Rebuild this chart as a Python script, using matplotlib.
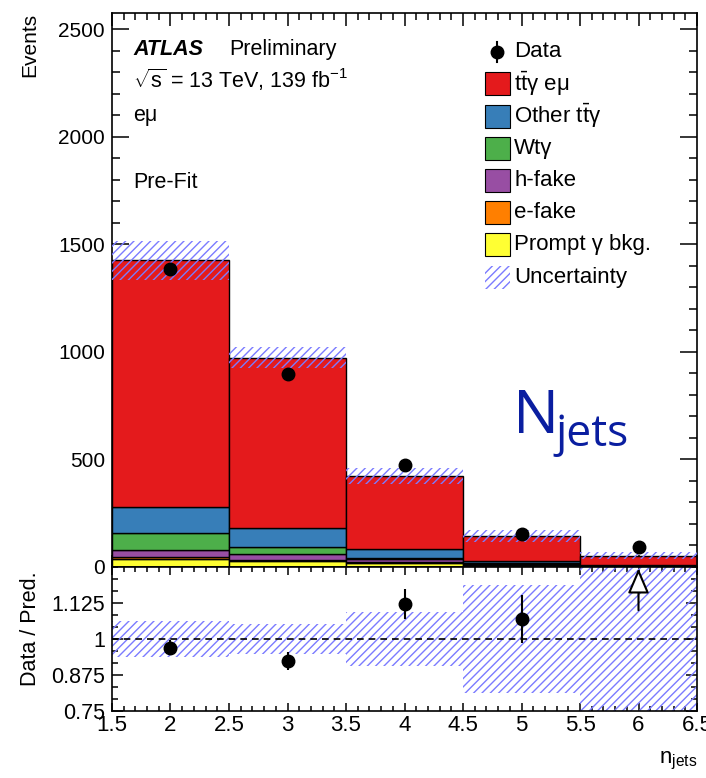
import numpy as np
import matplotlib.pyplot as plt
from matplotlib.patches import Rectangle
from matplotlib.ticker import MultipleLocator, FixedLocator

plt.rcParams['font.family'] = ['Liberation Sans', 'DejaVu Sans']
plt.rcParams['mathtext.fontset'] = 'custom'
plt.rcParams['mathtext.rm'] = 'Liberation Sans'
plt.rcParams['mathtext.it'] = 'Liberation Sans:italic'
plt.rcParams['hatch.linewidth'] = 1.0

# n_jets bins
bins = [2, 3, 4, 5, 6]

# stacked prediction (bottom -> top)
prompt_bkg = [36, 27, 17, 9, 3]
e_fake = [9, 6, 8, 4, 1]
h_fake = [34, 26, 11, 4, 1]
wt_gamma = [81, 32, 7, 3, 1]
other_ttgamma = [119, 88, 39, 9, 2]
ttgamma_emu = [1147, 793, 341, 114, 44]

data = [1383, 897, 475, 153, 91]
data_err = [37, 30, 22, 12, 10]
pred_unc = [90, 49, 39, 27, 16]

stack = [
    (prompt_bkg, '#ffff33', 'Prompt γ bkg.'),
    (e_fake, '#ff7f00', 'e-fake'),
    (h_fake, '#984ea3', 'h-fake'),
    (wt_gamma, '#4daf4a', 'Wtγ'),
    (other_ttgamma, '#377eb8', r'Other t$\bar{\mathrm{t}}$γ'),
    (ttgamma_emu, '#e41a1c', r't$\bar{\mathrm{t}}$γ eμ'),
]
hatch_col = '#7b7bff'

W, H = 706, 778
fig = plt.figure(figsize=(W / 100, H / 100), dpi=100)


def fr(x0, y0, x1, y1):
    # pixel box -> figure fraction
    return [x0 / W, 1 - y1 / H, (x1 - x0) / W, (y1 - y0) / H]


ax = fig.add_axes(fr(112, 13, 697, 567))
rax = fig.add_axes(fr(112, 567, 697, 711))

x = np.array(bins)
bottom = np.zeros(len(bins))
for vals, col, lab in stack:
    ax.bar(x, vals, width=1, bottom=bottom, color=col, edgecolor='black',
           linewidth=1.0, zorder=2)
    bottom += np.array(vals)
total = bottom
unc = np.array(pred_unc)

ax.bar(x, 2 * unc, width=1, bottom=total - unc, fill=False, hatch='////',
       edgecolor=hatch_col, linewidth=0, zorder=3)
ax.plot(x, data, 'o', color='black', ms=9, zorder=4)

ax.set_xlim(1.5, 6.5)
ax.set_ylim(0, 2575)
ax.yaxis.set_major_locator(MultipleLocator(500))
ax.yaxis.set_minor_locator(MultipleLocator(100))
ax.xaxis.set_major_locator(MultipleLocator(0.5))
ax.xaxis.set_minor_locator(MultipleLocator(0.1))
ax.tick_params(axis='both', which='both', direction='in', top=True, right=True,
               width=1.1)
ax.tick_params(axis='y', which='major', length=12, labelsize=15, pad=5)
ax.tick_params(axis='y', which='minor', length=6)
ax.tick_params(axis='x', which='major', length=9, labelbottom=False)
ax.tick_params(axis='x', which='minor', length=5)

# ratio panel
ratio = np.array(data) / total
ratio_err = np.array(data_err) / total
rel_unc = unc / total
rax.bar(x, 2 * rel_unc, width=1, bottom=1 - rel_unc, fill=False, hatch='////',
        edgecolor=hatch_col, linewidth=0, zorder=2)
rax.axhline(1, color='black', ls=(0, (4, 3)), lw=1.2, zorder=3)
rlo, rhi = 0.75, 1.25
inside = ratio < rhi
rax.errorbar(x[inside], ratio[inside], yerr=ratio_err[inside], fmt='o',
             color='black', ms=9, elinewidth=1.5, capsize=0, zorder=4)
for xi in x[~inside]:
    rax.annotate('', xy=(xi, rhi - 0.005), xytext=(xi, 1.10),
                 arrowprops=dict(arrowstyle='-|>,head_length=0.7,head_width=0.3',
                                 facecolor='white', edgecolor='black', lw=1.5,
                                 mutation_scale=22, shrinkA=0, shrinkB=0),
                 zorder=5)

rax.set_xlim(1.5, 6.5)
rax.set_ylim(rlo, rhi)
rax.yaxis.set_major_locator(FixedLocator([0.75, 0.875, 1.0, 1.125]))
rax.set_yticklabels(['0.75', '0.875', '1', '1.125'])
rax.yaxis.set_minor_locator(MultipleLocator(0.125 / 3))
rax.xaxis.set_major_locator(MultipleLocator(0.5))
rax.xaxis.set_minor_locator(MultipleLocator(0.1))
rax.xaxis.set_major_formatter(plt.FuncFormatter(lambda v, p: f'{v:g}'))
rax.tick_params(axis='both', which='both', direction='in', top=True, right=True,
                width=1.1)
rax.tick_params(axis='y', which='major', length=8, labelsize=15.5, pad=5)
rax.tick_params(axis='y', which='minor', length=4)
rax.tick_params(axis='x', which='major', length=6, labelsize=16, pad=3)
rax.tick_params(axis='x', which='minor', length=3.5)

for a in (ax, rax):
    for s in a.spines.values():
        s.set_linewidth(1.2)

# overlay in pixel coordinates for legend and labels
ov = fig.add_axes([0, 0, 1, 1], zorder=10)
ov.set_xlim(0, W)
ov.set_ylim(H, 0)
ov.axis('off')

ov.text(133, 55, 'ATLAS', fontsize=15.5, fontweight='bold', fontstyle='italic')
ov.text(229, 55, 'Preliminary', fontsize=15.5)
ov.text(133, 88, r'$\sqrt{\mathrm{s}}$ = 13 TeV, 139 fb$^{\mathrm{-1}}$', fontsize=15.5)
ov.text(133, 121, 'eμ', fontsize=15.5)
ov.text(133, 188, 'Pre-Fit', fontsize=15.5)

ov.text(30, 13, 'Events', rotation=90, ha='center', va='top', fontsize=15)
ov.text(30, 629, 'Data / Pred.', rotation=90, ha='center', va='center', fontsize=15.5)
ov.text(697, 763, r'n$_{\mathrm{jets}}$', ha='right', va='baseline', fontsize=16)

ov.text(513, 433, 'N', family='Open Sans', fontsize=44, color='#0a1ea0', va='baseline')
ov.text(555, 446, 'jets', family='Open Sans', fontsize=32, color='#0a1ea0', va='baseline')

# legend
row0, step = 51.7, 32.2
labels = ['Data'] + [s[2] for s in stack[::-1]] + ['Uncertainty']
for i, lab in enumerate(labels):
    yc = row0 + i * step
    if i == 0:
        ov.plot([497, 497], [yc - 10, yc + 10], color='black', lw=1.5)
        ov.plot(497, yc, 'o', color='black', ms=9)
    elif i == len(labels) - 1:
        ov.add_patch(Rectangle((485, yc - 11.5), 25, 23, fill=False,
                               hatch='////', edgecolor=hatch_col, linewidth=0))
    else:
        col = stack[::-1][i - 1][1]
        ov.add_patch(Rectangle((485, yc - 11.5), 25, 23, facecolor=col,
                               edgecolor='black', linewidth=0.8))
    ov.text(514, yc, lab, va='center', ha='left', fontsize=16)

fig.savefig('out.png', dpi=100)
